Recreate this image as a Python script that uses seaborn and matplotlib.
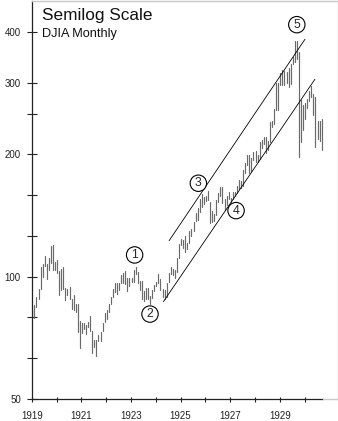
import numpy as np
import pandas as pd
import matplotlib
matplotlib.use("Agg")
import matplotlib.pyplot as plt
import seaborn as sns
from matplotlib.ticker import FixedLocator, FixedFormatter, NullLocator

# ---- data: DJIA monthly high / low, Jan 1919 .. Sep 1930 ----
years = [1919, 1920, 1921, 1922, 1923, 1924, 1925, 1926, 1927, 1928, 1929, 1930]
highs = [
    82.6, 85.0, 89.1, 93.5, 105.5, 107.6, 112.2, 107.6, 111.4, 118.9, 119.6, 108.8,   # 1919
    109.9, 103.0, 104.2, 105.6, 94.0, 93.2, 94.5, 88.0, 89.9, 85.7, 85.5, 77.6,       # 1920
    76.8, 77.1, 76.2, 77.5, 80.0, 73.4, 69.9, 69.9, 71.9, 73.2, 77.1, 81.5,           # 1921
    82.9, 85.8, 89.1, 93.5, 96.4, 96.4, 96.7, 100.8, 102.0, 103.4, 99.5, 99.2,        # 1922
    99.4, 103.6, 105.4, 102.7, 97.6, 97.7, 92.3, 93.7, 93.6, 89.4, 92.6, 95.5,        # 1923
    97.2, 101.3, 98.9, 93.3, 92.5, 96.6, 102.1, 105.6, 104.7, 104.1, 111.4, 120.5,    # 1924
    123.6, 122.9, 125.7, 121.0, 129.9, 131.0, 136.5, 143.2, 147.7, 155.7, 159.4, 157.0,  # 1925
    158.0, 162.3, 153.0, 144.8, 143.0, 154.0, 160.6, 166.6, 166.1, 155.0, 158.0, 161.9,  # 1926
    156.6, 161.9, 161.8, 167.4, 172.9, 171.9, 182.6, 190.6, 199.8, 199.8, 196.3, 202.4,  # 1927
    203.4, 199.4, 214.5, 216.9, 220.9, 220.1, 216.0, 240.4, 241.7, 259.2, 299.4, 300.0,  # 1928
    317.5, 322.1, 321.2, 319.3, 327.1, 333.8, 347.7, 380.3, 381.2, 358.0, 272.0, 265.0,  # 1929
    268.0, 273.0, 286.0, 294.0, 282.0, 277.0, 241.0, 241.0, 245.0,                       # 1930
]
lows = [
    79.9, 79.2, 84.0, 88.0, 93.0, 99.6, 106.0, 98.5, 104.0, 108.3, 103.6, 103.6,
    101.9, 90.0, 92.5, 93.5, 87.4, 90.0, 88.0, 83.2, 82.9, 82.0, 73.1, 66.8,
    72.6, 74.3, 72.3, 75.2, 73.4, 64.9, 67.3, 63.9, 69.4, 69.5, 73.4, 77.3,
    78.6, 81.7, 85.6, 89.1, 91.5, 90.7, 92.5, 96.6, 96.6, 96.1, 92.0, 95.0,
    96.9, 96.8, 101.7, 96.6, 92.8, 87.9, 86.9, 88.2, 87.9, 85.8, 88.4, 92.3,
    94.9, 96.3, 92.6, 89.2, 88.3, 89.2, 96.9, 101.5, 101.2, 99.2, 102.8, 111.4,
    119.5, 117.9, 115.0, 117.0, 121.0, 125.7, 129.8, 136.7, 137.7, 144.5, 148.2, 151.0,
    153.2, 154.0, 135.2, 136.3, 137.2, 142.0, 153.0, 158.0, 152.0, 145.7, 150.3, 155.0,
    152.7, 155.5, 158.0, 160.6, 164.6, 165.7, 167.6, 179.7, 188.5, 179.8, 181.7, 193.6,
    191.3, 191.3, 194.8, 207.9, 211.7, 201.9, 205.1, 214.5, 234.0, 237.6, 257.6, 257.3,
    296.0, 295.9, 296.5, 299.1, 293.4, 297.4, 334.0, 338.0, 343.0, 197.0, 214.0, 230.0,
    244.0, 260.0, 270.0, 277.0, 250.0, 208.0, 218.0, 216.0, 205.0,
]

# trend channel (start / end)
lower_t = [1924.31, 1930.42]
lower_v = [86.8, 306.0]
upper_t = [1924.54, 1930.02]
upper_v = [122.6, 384.0]

# wave labels
wave_labels = ["1", "2", "3", "4", "5"]
wave_t = [1923.15, 1923.77, 1925.72, 1927.24, 1929.69]
wave_v = [113.1, 80.9, 169.8, 145.4, 417.0]

ytick_vals = [50, 63, 79.4, 100, 126, 159, 200, 252, 300, 400]
ytick_lbls = ["50", "", "", "100", "", "", "200", "", "300", "400"]
xtick_vals = list(range(1919, 1931))
xtick_lbls = [str(y) if (y - 1919) % 2 == 0 else "" for y in xtick_vals]

# ---- build long table for seaborn ----
n = len(highs)
t = [years[0] + (i // 12) + ((i % 12) + 0.3) / 12.0 for i in range(n)]
df = pd.DataFrame({
    "t": t + t,
    "v": lows + highs,
    "id": list(range(n)) + list(range(n)),
})
chan = pd.DataFrame({
    "t": lower_t + upper_t,
    "v": lower_v + upper_v,
    "id": [0, 0, 1, 1],
})

sns.set_style("ticks")
plt.rcParams["font.family"] = ["Liberation Sans", "DejaVu Sans"]

W, H = 338, 421
fig = plt.figure(figsize=(W / 100, H / 100), dpi=100)
ax = fig.add_axes([31.7 / W, 22 / H, (337.5 - 31.7) / W, (420.5 - 22) / H])
ax.set_yscale("log")

sns.lineplot(data=df, x="t", y="v", units="id", estimator=None, sort=False,
             color="#6a6a6a", linewidth=0.85, ax=ax, legend=False)
sns.lineplot(data=chan, x="t", y="v", units="id", estimator=None, sort=False,
             color="black", linewidth=0.6, ax=ax, legend=False)

for lab, tt, vv in zip(wave_labels, wave_t, wave_v):
    ax.text(tt, vv, lab, ha="center", va="center", fontsize=8.8, zorder=5,
            bbox=dict(boxstyle="circle,pad=0.18", fc="white", ec="black", lw=0.8))

ax.set_xlim(1919, 1919 + (337.5 - 31.7) / 24.8)
ax.set_ylim(50, 50 * 2 ** (398.5 / 122.33))

ax.yaxis.set_major_locator(FixedLocator(ytick_vals))
ax.yaxis.set_major_formatter(FixedFormatter(ytick_lbls))
ax.yaxis.set_minor_locator(NullLocator())
ax.xaxis.set_major_locator(FixedLocator(xtick_vals))
ax.xaxis.set_major_formatter(FixedFormatter(xtick_lbls))
ax.xaxis.set_minor_locator(NullLocator())

ax.tick_params(axis="y", direction="inout", length=6.5, width=0.8,
               labelsize=7, pad=4.5, colors="#222222")
ax.tick_params(axis="x", direction="inout", length=3.6, width=0.8,
               labelsize=7, pad=6.5, colors="#222222")

ax.set_xlabel("")
ax.set_ylabel("")

for s in ["top", "right"]:
    ax.spines[s].set_color("#c8c8c8")
    ax.spines[s].set_linewidth(1.0)
ax.spines["left"].set_color("#222222")
ax.spines["left"].set_linewidth(0.9)
ax.spines["bottom"].set_color("#222222")
ax.spines["bottom"].set_linewidth(0.9)
ax.spines["bottom"].set_bounds(1919, 1930.75)
ax.plot([1930.75, ax.get_xlim()[1]], [50, 50], color="#c8c8c8", lw=1.0,
        clip_on=False, zorder=3)

fig.text(41.7 / W, 1 - 20 / H, "Semilog Scale", fontsize=12.4, va="baseline",
         ha="left", color="#111111")
fig.text(41.7 / W, 1 - 37 / H, "DJIA Monthly", fontsize=9.2, va="baseline",
         ha="left", color="#111111")

fig.savefig("out.png", dpi=100)
